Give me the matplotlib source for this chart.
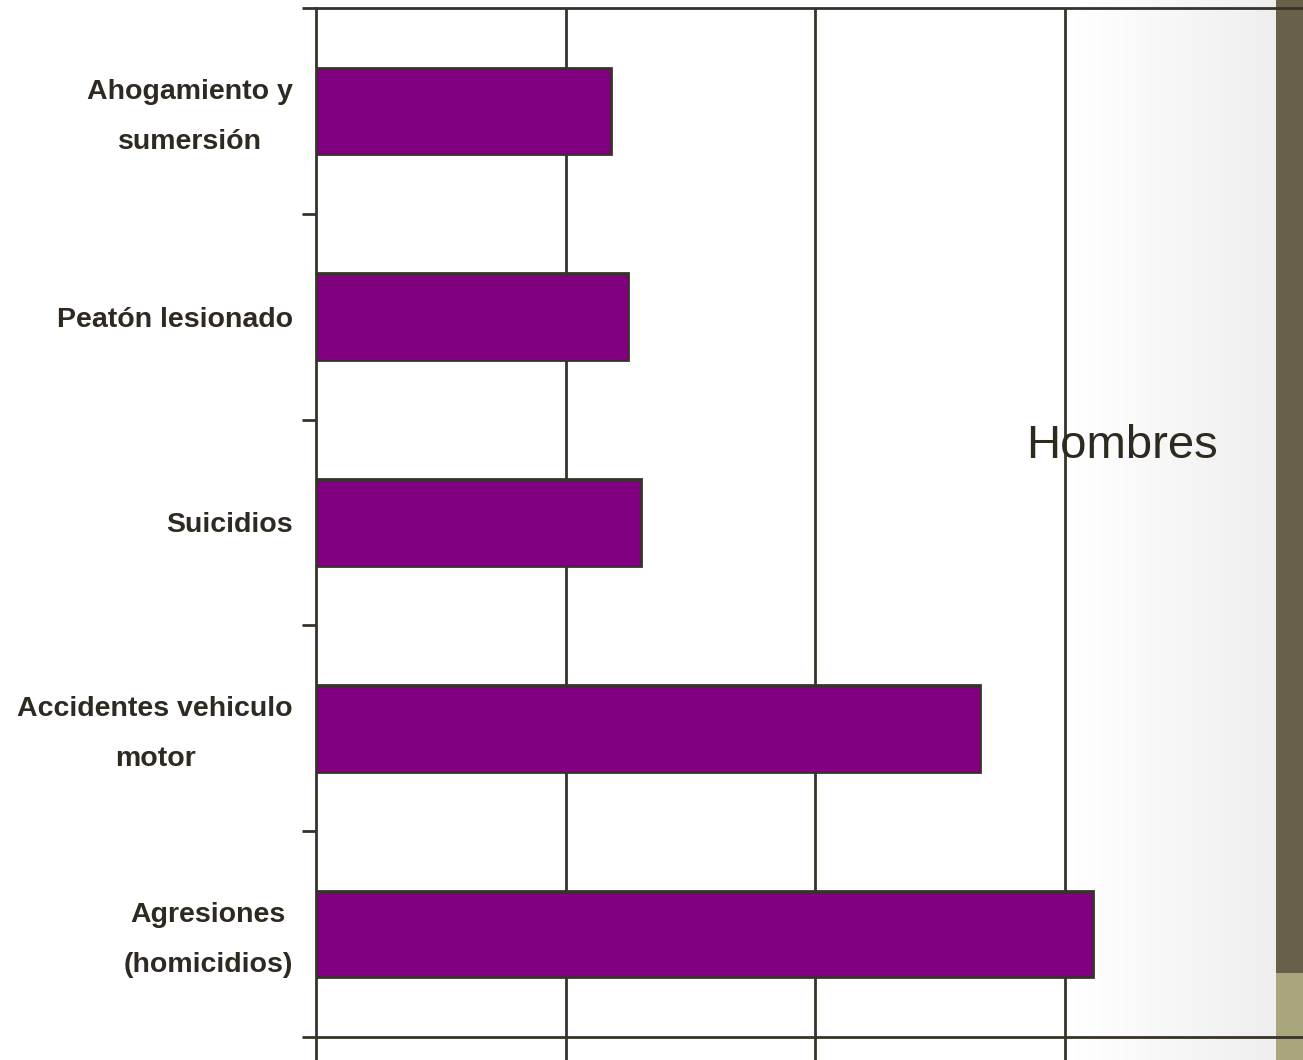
import numpy as np
import matplotlib
matplotlib.use('Agg')
import matplotlib.pyplot as plt
from matplotlib.transforms import ScaledTranslation

# categories listed bottom to top
causes = ['Agresiones\n(homicidios)', 'Accidentes vehiculo\nmotor', 'Suicidios',
          'Peatón lesionado', 'Ahogamiento y\nsumersión']
values = [31.1, 26.6, 13.0, 12.5, 11.8]

W, H = 1303, 1060
fig = plt.figure(figsize=(W / 100, H / 100), dpi=100)

# slide background: white fading to light gray, olive side strip
bg = fig.add_axes([0, 0, 1, 1], zorder=-1)
grad = np.ones((H, W, 3))
x = np.arange(W)
t = np.clip((x - 1075) / (1276 - 1075), 0, 1)
shade = 1 - 0.065 * t
grad[:, :, :] = shade[None, :, None]
grad[:, 1276:, :] = np.array([104, 96, 72]) / 255
grad[973:, 1276:, :] = np.array([169, 165, 124]) / 255
bg.imshow(grad, aspect='auto', extent=[0, W, H, 0])
bg.axis('off')

line_col = '#37332a'
ax = fig.add_axes([316 / W, 0, (W - 316) / W, (H - 8) / H])
ax.set_facecolor('none')

ypos = np.arange(len(causes))
ax.barh(ypos, values, height=0.42, color='#800080', edgecolor=line_col,
        linewidth=2, zorder=3)

ax.set_xlim(0, (W - 316) / 24.97)
ax.set_ylim(-0.5 - 23 / 205.8, 4.5)
ax.set_xticks([10, 20, 30])
ax.tick_params(axis='x', length=0, labelbottom=False)
ax.xaxis.grid(True, color=line_col, linewidth=2)
ax.set_axisbelow(True)

ax.set_yticks(np.arange(-0.5, 5, 1))
ax.tick_params(axis='y', which='major', length=10, width=2, color=line_col,
               labelleft=False)
ax.set_yticks(ypos, minor=True)
ax.set_yticklabels(causes, minor=True, fontsize=20.5, fontweight='bold',
                   color='#2e2a22', family=['Liberation Sans', 'DejaVu Sans'],
                   multialignment='center', linespacing=2.2)
ax.tick_params(axis='y', which='minor', length=0, pad=16.5)
# two-line labels sit a little higher in the original
for lbl in ax.get_yticklabels(minor=True):
    if '\n' in lbl.get_text():
        lbl.set_transform(lbl.get_transform() +
                          ScaledTranslation(0, 0.09, fig.dpi_scale_trans))

ax.axhline(-0.5, color=line_col, linewidth=2, zorder=4)
for side in ['right', 'bottom']:
    ax.spines[side].set_visible(False)
for side in ['left', 'top']:
    ax.spines[side].set_color(line_col)
    ax.spines[side].set_linewidth(2)

ax.text(28.45, 2.37, 'Hombres', fontsize=34, color='#2e2a20',
        family=['Liberation Sans', 'DejaVu Sans'], va='center', ha='left', zorder=5)

fig.savefig('out.png', dpi=100)
